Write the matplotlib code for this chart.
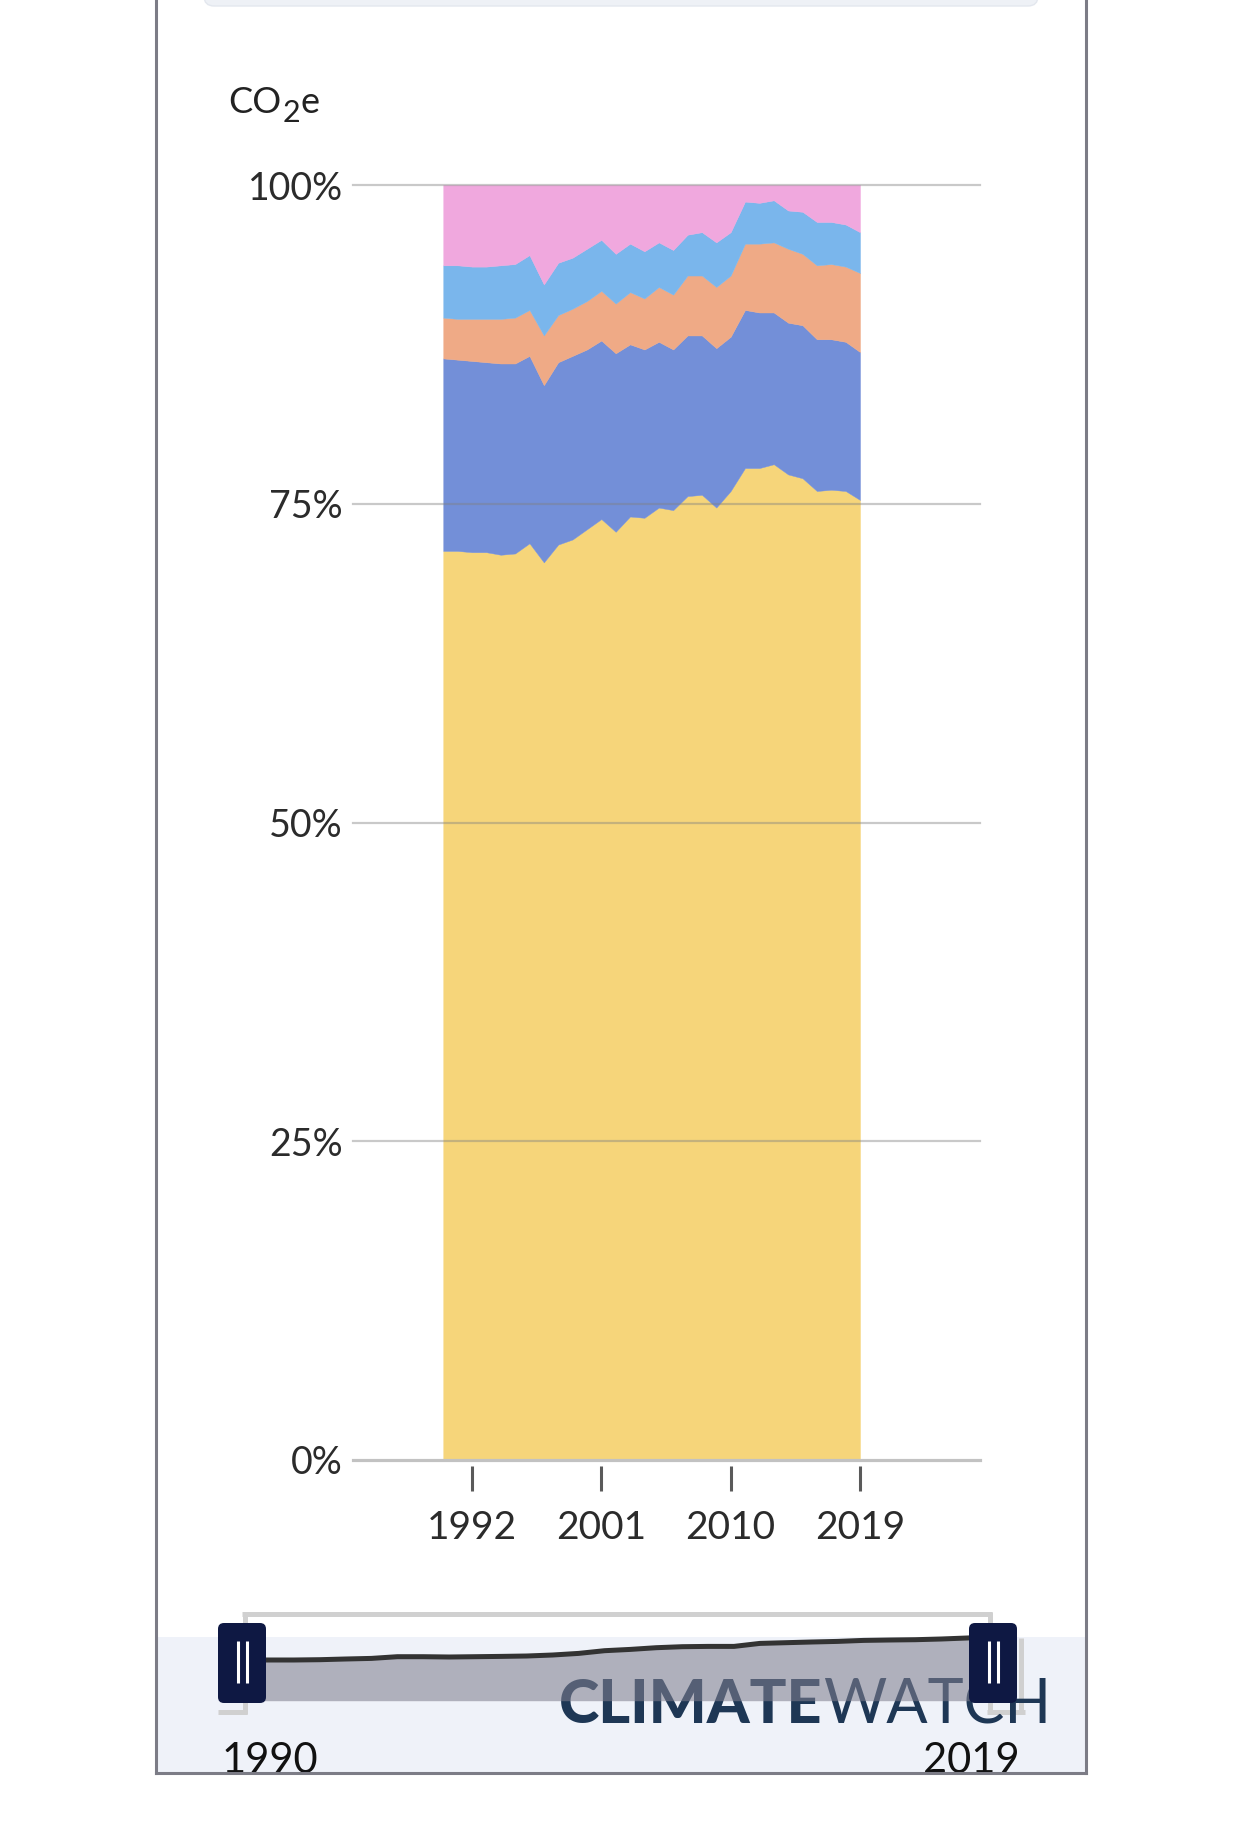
import matplotlib
matplotlib.use("Agg")
import matplotlib.pyplot as plt
from matplotlib.patches import Rectangle, FancyBboxPatch

plt.rcParams['font.family'] = ['Lato', 'DejaVu Sans']

# ---- data: sector shares of total emissions (%) ----
years = list(range(1990, 2020))
energy = [71.3, 71.3, 71.2, 71.2, 71.0, 71.1, 71.9, 70.4, 71.8, 72.2,
          73.0, 73.8, 72.8, 74.0, 73.9, 74.7, 74.5, 75.6, 75.7, 74.7,
          76.0, 77.8, 77.8, 78.1, 77.3, 77.0, 76.0, 76.1, 76.0, 75.3]
agriculture = [15.1, 15.0, 15.0, 14.9, 15.0, 14.9, 14.7, 13.9, 14.3, 14.4,
               14.1, 14.0, 14.0, 13.5, 13.2, 13.0, 12.6, 12.6, 12.5, 12.5,
               12.1, 12.4, 12.2, 11.9, 11.9, 12.0, 11.9, 11.8, 11.7, 11.6]
industry = [3.2, 3.2, 3.3, 3.4, 3.5, 3.6, 3.6, 3.9, 3.7, 3.7,
            3.8, 3.9, 3.9, 4.1, 4.0, 4.3, 4.3, 4.7, 4.7, 4.8,
            4.8, 5.2, 5.4, 5.5, 5.8, 5.6, 5.8, 5.9, 5.9, 6.2]
waste = [4.1, 4.2, 4.1, 4.1, 4.2, 4.2, 4.3, 4.0, 4.1, 4.0,
         4.1, 4.0, 3.9, 3.8, 3.7, 3.5, 3.5, 3.2, 3.4, 3.5,
         3.4, 3.3, 3.2, 3.3, 3.0, 3.3, 3.4, 3.3, 3.3, 3.2]
other = [6.3, 6.3, 6.4, 6.4, 6.3, 6.2, 5.5, 7.8, 6.1, 5.7,
         5.0, 4.3, 5.4, 4.6, 5.2, 4.5, 5.1, 3.9, 3.7, 4.5,
         3.7, 1.3, 1.4, 1.2, 2.0, 2.1, 2.9, 2.9, 3.1, 3.7]
colors = ['#F6D57A', '#738FD8', '#EFAA86', '#7AB6EC', '#F0A8DE']

yticks = [0, 25, 50, 75, 100]
ytick_labels = ['0%', '25%', '50%', '75%', '100%']
xticks = [1992, 2001, 2010, 2019]

# total emissions (relative index) for the range slider
total = [40.7, 40.7, 40.7, 41.0, 41.7, 42.3, 44.0, 44.0, 43.7, 44.0,
         44.3, 44.7, 45.7, 47.3, 50.0, 51.3, 53.0, 54.0, 54.3, 54.3,
         57.3, 58.0, 58.7, 59.3, 60.3, 60.7, 61.0, 61.7, 62.7, 64.0]

W, H = 1242, 1825
fig = plt.figure(figsize=(W / 100, H / 100), dpi=100)
fig.patch.set_facecolor('white')
renderer = fig.canvas.get_renderer()


def frac(x0, y0, x1, y1):
    # pixel box (top-left origin) -> figure fraction rect
    return [x0 / W, 1 - y1 / H, (x1 - x0) / W, (y1 - y0) / H]


def right_edge(ax_, t):
    bb = t.get_window_extent(renderer)
    return ax_.transData.inverted().transform((bb.x1, bb.y0))[0]


# background overlay (pixel coordinates)
bg = fig.add_axes([0, 0, 1, 1], zorder=0)
bg.set_xlim(0, W)
bg.set_ylim(H, 0)
bg.axis('off')

bg.add_patch(FancyBboxPatch((204, -30), 834, 36, boxstyle='round,pad=0,rounding_size=10',
                            fc='#eef1f6', ec='#e3e7ee', lw=1))
bg.add_patch(Rectangle((157, 1637), 928, 136, fc='#eff2f9', ec='none'))

# unit label CO2e (subscript drawn as its own text)
c1 = bg.text(228, 113, 'CO', fontsize=26, color='#222222', va='baseline', ha='left')
x = right_edge(bg, c1)
c2 = bg.text(x + 1, 122, '2', fontsize=22, color='#222222', va='baseline', ha='left')
x = right_edge(bg, c2)
bg.text(x + 1, 113, 'e', fontsize=26, color='#222222', va='baseline', ha='left')

# slider bracket
br = dict(color='#d0d0d0', lw=3.6, solid_capstyle='butt')
bg.plot([244.5, 244.5], [1612, 1714], **br)
bg.plot([242, 992], [1614, 1614], **br)
bg.plot([990, 990], [1612, 1714], **br)
bg.plot([218, 247], [1712, 1712], **br)
bg.plot([987, 1025], [1712, 1712], **br)
bg.plot([1021, 1021], [1638, 1714], **br)

# logo text
t1 = bg.text(559, 1723, 'CLIMATE', fontsize=44, fontweight='black', color='#1e3755',
             va='baseline', ha='left')
bg.text(right_edge(bg, t1), 1723, 'WATCH', fontsize=44, fontweight='normal', color='#1e3755',
        va='baseline', ha='left')

bg.text(222, 1773, '1990', fontsize=30, color='#111111', va='baseline', ha='left')
bg.text(1020, 1773, '2019', fontsize=30, color='#111111', va='baseline', ha='right')

# ---- main stacked area chart ----
ax = fig.add_axes(frac(352.7, 185, 980, 1460), zorder=2)
ax.patch.set_alpha(0)
ax.stackplot(years, energy, agriculture, industry, waste, other,
             colors=colors, edgecolor='face', linewidth=0.3)
ax.set_xlim(1983.7, 2027.35)
ax.set_ylim(0, 100)

for v in yticks[1:]:
    ax.axhline(v, color='#808080', alpha=0.42, lw=1.6, clip_on=False, zorder=3)
ax.axhline(0, color='#c2c2c2', lw=2.3, clip_on=False, zorder=3)

for s in ['top', 'right', 'left']:
    ax.spines[s].set_visible(False)
ax.spines['bottom'].set_position(('outward', 4.3))
ax.spines['bottom'].set_visible(False)

ax.set_yticks(yticks)
ax.set_yticklabels(ytick_labels)
ax.tick_params(axis='y', length=0, pad=7, labelsize=27, labelcolor='#2b2b2b')
ax.set_xticks(xticks)
ax.set_xticklabels([str(v) for v in xticks])
ax.tick_params(axis='x', length=18, width=2.2, color='#5a5a5a', pad=13.5,
               labelsize=28, labelcolor='#2b2b2b')

# ---- range slider mini chart ----
sl = fig.add_axes(frac(242, 1636.7, 993, 1700.7), zorder=3)
sl.patch.set_alpha(0)
sl.set_xlim(1990, 2019)
sl.set_ylim(0, 64)
sl.axis('off')
sl.fill_between(years, total, 0, color=(127 / 255, 127 / 255, 143 / 255), alpha=0.57, lw=0)
sl.plot(years, total, color='#333333', lw=3.6, clip_on=False)

# ---- top overlay: handles, frame ----
top = fig.add_axes([0, 0, 1, 1], zorder=4)
top.patch.set_alpha(0)
top.set_xlim(0, W)
top.set_ylim(H, 0)
top.axis('off')

for hx in [218, 969]:
    top.add_patch(FancyBboxPatch((hx, 1623), 48, 80, boxstyle='round,pad=0,rounding_size=6',
                                 fc='#0e1843', ec='none'))
    for dx in [20, 29]:
        top.plot([hx + dx, hx + dx], [1641, 1683], color='white', lw=2.2, solid_capstyle='butt')

top.add_patch(Rectangle((0, 1774), W, 60, fc='white', ec='none'))
frame = dict(color='#7c7c86', lw=2.2, solid_capstyle='projecting')
top.plot([156, 156], [0, 1773], **frame)
top.plot([1086, 1086], [0, 1773], **frame)
top.plot([156, 1086], [1773, 1773], **frame)

fig.savefig('out.png', dpi=100)
